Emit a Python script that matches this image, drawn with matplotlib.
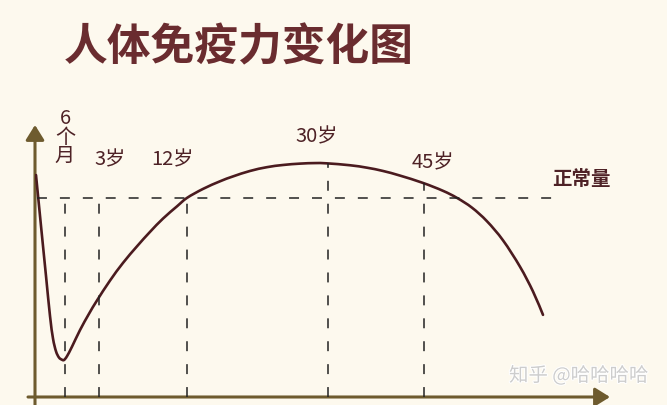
import matplotlib
matplotlib.use('Agg')
import matplotlib.pyplot as plt
import matplotlib.patheffects as pe
from matplotlib.patches import FancyArrowPatch, PathPatch
from matplotlib.path import Path
import numpy as np

plt.rcParams['font.family'] = ['Noto Sans CJK SC', 'DejaVu Sans']

# curve (x = position along the age axis, y = immunity level)
curve_x = [1, 6, 11, 15, 18, 21, 24, 27, 29, 32, 37, 45, 54, 62, 75, 88, 102, 115,
           128, 142, 152, 168, 185, 198, 215, 232, 248, 265, 280, 292, 315, 332, 348,
           365, 388, 408, 422, 437, 452, 468, 485, 498, 508]
curve_y = [81.6, 62.9, 44.5, 29.8, 21.5, 16.8, 14.5, 13.7, 13.6, 15.0, 18.5, 24.6,
           30.6, 35.5, 42.8, 49.3, 55.4, 60.7, 65.6, 70.1, 73.2, 76.5, 79.3, 81.1,
           83.1, 84.5, 85.3, 85.8, 86.0, 85.9, 85.2, 84.3, 83.1, 81.4, 78.7, 75.8,
           73.2, 69.6, 64.6, 57.6, 47.9, 38.8, 30.2]

normal_level = 73.2
normal_label = '正常量'

# marked ages, their position on the axis and the curve value there
age_labels = ['6\n个\n月', '3岁', '12岁', '30岁', '45岁']
age_pos = [30, 64, 152, 293, 389]
age_curve = [13.6, 35.5, 73.2, 85.9, 78.7]
label_x = [30, 75, 137, 282, 398]
label_y = [95.4, 87.1, 87.1, 95.6, 86.0]

bg = '#fdf9ee'
axis_col = '#6e5b2e'
curve_col = '#4b1b1f'
text_col = '#4e2226'


def smooth_path(xs, ys):
    # bezier segments through the points (Catmull-Rom tangents)
    pts = np.column_stack([xs, ys]).astype(float)
    verts = [pts[0]]
    codes = [Path.MOVETO]
    for i in range(len(pts) - 1):
        p0 = pts[max(i - 1, 0)]
        p1 = pts[i]
        p2 = pts[i + 1]
        p3 = pts[min(i + 2, len(pts) - 1)]
        verts += [p1 + (p2 - p0) / 6, p2 - (p3 - p1) / 6, p2]
        codes += [Path.CURVE4] * 3
    return Path(verts, codes)


fig = plt.figure(figsize=(6.67, 4.05), dpi=100, facecolor=bg)
ax = fig.add_axes([35 / 667, 8 / 405, 575 / 667, 272 / 405])
ax.set_xlim(0, 575)
ax.set_ylim(0, 100)
ax.axis('off')

# axes with arrows
for start, end in [((0, -3), (0, 100)), ((-7, 0), (575, 0))]:
    arr = FancyArrowPatch(start, end, arrowstyle='-|>,head_length=0.45,head_width=0.28',
                          mutation_scale=20, lw=2.2, color=axis_col,
                          shrinkA=0, shrinkB=0, clip_on=False)
    ax.add_patch(arr)

dash = (0, (6.5, 8.5))
ax.plot([2, 518], [normal_level, normal_level], color='#222222', lw=1.1, linestyle=dash)
for p, c in zip(age_pos, age_curve):
    ax.plot([p, p], [0, max(c, normal_level)], color='#222222', lw=1.1, linestyle=dash)

ax.add_patch(PathPatch(smooth_path(curve_x, curve_y), facecolor='none',
                       edgecolor=curve_col, lw=1.9, capstyle='round', joinstyle='round'))

for lab, x, y in zip(age_labels, label_x, label_y):
    ax.text(x, y, lab, ha='center', va='center', fontsize=14.5, fontweight='medium',
            color=text_col, linespacing=0.88, clip_on=False)

ax.text(546, 80.1, normal_label, ha='center', va='center', fontsize=14,
        fontweight='bold', color=text_col, clip_on=False)

fig.text(0.358, 0.884, '人体免疫力变化图', ha='center', va='center', fontsize=31.5,
         fontweight='heavy', color='#6a2c2f')

fig.text(0.868, 0.072, '知乎 @哈哈哈哈', ha='center', va='center', fontsize=14,
         color='#cdcdcd',
         path_effects=[pe.withStroke(linewidth=1.5, foreground='white')])

fig.savefig('out.png', dpi=100, facecolor=bg)
